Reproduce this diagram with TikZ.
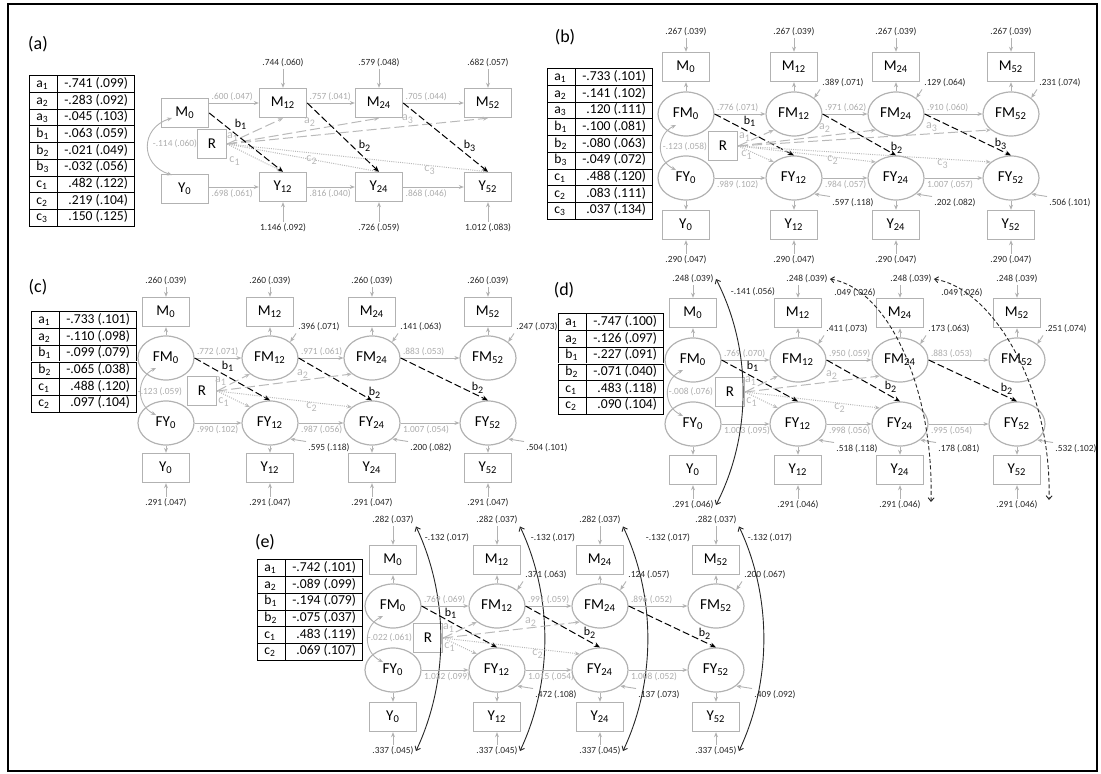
\documentclass[tikz,border=0pt]{standalone}
\usepackage{fontspec}
\setmainfont{Carlito}
\usepackage{array}
\usetikzlibrary{arrows.meta,shapes.geometric,calc}

\newcolumntype{V}{>{\raggedleft\arraybackslash}p{32.1pt}}
\setlength{\tabcolsep}{3pt}
\setlength{\arrayrulewidth}{0.5pt}
\newcommand{\tabfont}{\fontsize{6.8}{7.85}\selectfont}

\begin{document}
\begin{tikzpicture}[x=0.5pt,y=-0.5pt,
    obs/.style={draw=gray!60,line width=0.7pt,minimum width=23.5pt,minimum height=14.5pt,inner sep=0pt,font=\fontsize{7.5}{8}\selectfont},
    lat/.style={ellipse,draw=gray!60,line width=0.6pt,minimum width=28pt,minimum height=22pt,inner sep=0pt,font=\fontsize{7.6}{8}\selectfont},
    rbox/.style={draw=gray!60,line width=0.7pt,minimum size=14.5pt,inner sep=0pt,font=\fontsize{7.5}{8}\selectfont},
    est/.style={font=\fontsize{4.7}{5}\selectfont,text=black!85,inner sep=1pt},
    plab/.style={font=\fontsize{4.7}{5}\selectfont,text=gray!65,inner sep=1pt},
    glab/.style={font=\fontsize{6}{7}\selectfont,text=gray!55,inner sep=0pt},
    blab/.style={font=\fontsize{6}{7}\selectfont,inner sep=0pt},
    arr/.style={draw=gray!60,line width=0.45pt,-{Stealth[length=2.5pt,width=2pt]}},
    bpath/.style={black,line width=0.5pt,dash pattern=on 3.5pt off 1.5pt,-{Stealth[length=3pt,width=2.4pt]}},
    apath/.style={gray!55,line width=0.5pt,dash pattern=on 5pt off 2pt,-{Stealth[length=2.5pt,width=2pt]}},
    cpath/.style={gray!55,line width=0.5pt,dash pattern=on 0.5pt off 0.6pt,-{Stealth[length=2.5pt,width=2pt]}},
    cov/.style={gray!60,line width=0.45pt,{Stealth[length=2.5pt,width=2pt]}-{Stealth[length=2.5pt,width=2pt]}},
    longcov/.style={black!85,line width=0.45pt,{Straight Barb[length=1.8pt,width=3pt]}-{Straight Barb[length=1.8pt,width=3pt]}},
    tab/.style={anchor=north west,inner sep=0pt,font=\tabfont},
    panel/.style={font=\fontsize{9}{10}\selectfont}]
\useasboundingbox (0,0) rectangle (1101,774);
\draw[line width=1.4pt] (8,4) rectangle (1097,771);

%---------------- (a) ----------------
\node[panel] (pa) at (38,44) {(a)};
\node[tab] (ta) at (29,75) {\begin{tabular}{|p{7.2pt}|V|}\hline
  a\textsubscript{1} & -.741 (.099)\\\hline
  a\textsubscript{2} & -.283 (.092)\\\hline
  a\textsubscript{3} & -.045 (.103)\\\hline
  b\textsubscript{1} & -.063 (.059)\\\hline
  b\textsubscript{2} & -.021 (.049)\\\hline
  b\textsubscript{3} & -.032 (.056)\\\hline
  c\textsubscript{1} & .482 (.122)\\\hline
  c\textsubscript{2} & .219 (.104)\\\hline
  c\textsubscript{3} & .150 (.125)\\\hline
\end{tabular}};
\node[obs] (aM0) at (185,113) {M\textsubscript{0}};
\node[obs] (aY0) at (185,189) {Y\textsubscript{0}};
\node[rbox] (aR) at (212,144) {R};
\foreach \tm/\x/\ra/\rb in {12/283/.744 (.060)/1.146 (.092), 24/379/.579 (.048)/.726 (.059), 52/488/.682 (.057)/1.012 (.083)}{
  \node[obs] (aM\tm) at (\x,103) {M\textsubscript{\tm}};
  \node[obs] (aY\tm) at (\x,187) {Y\textsubscript{\tm}};
  \node[est] (aTM\tm) at (\x,63) {\ra};
  \node[est] (aTY\tm) at (\x,228) {\rb};
  \draw[arr] (aTM\tm) -- (aM\tm);
  \draw[arr] (aTY\tm) -- (aY\tm);
  \draw[apath] (aR.east) -- (aM\tm.south);
  \draw[cpath] (aR.east) -- (aY\tm.north);
}
\draw[arr] (aM0.east |- aM12) -- (aM12.west) node[pos=0,plab,anchor=south west] {.600 (.047)};
\draw[arr] (aY0.east |- aY12) -- (aY12.west) node[pos=0,plab,anchor=north west] {.698 (.061)};
\foreach \s/\tm/\ra/\rb in {12/24/.757 (.041)/.816 (.040), 24/52/.705 (.044)/.868 (.046)}{
  \draw[arr] (aM\s.east) -- (aM\tm.west) node[pos=0,plab,anchor=south west] {\ra};
  \draw[arr] (aY\s.east) -- (aY\tm.west) node[pos=0,plab,anchor=north west] {\rb};
}
\draw[bpath] (aM0.east) -- (aY12.north);
\draw[bpath] (aM12.east) -- (aY24.north);
\draw[bpath] (aM24.east) -- (aY52.north);
\draw[cov] ($(aM0)+(-13,5)$) .. controls +(-32,10) and +(-32,-10) .. ($(aY0)+(-13,-14)$);
\node[plab] at (175,144) {-.114 (.060)};
\node[blab] at (241,124) {b\textsubscript{1}};
\node[glab] at (233,137) {a\textsubscript{1}};
\node[glab] at (235,161) {c\textsubscript{1}};
\node[glab] at (310,122) {a\textsubscript{2}};
\node[blab] at (365,146) {b\textsubscript{2}};
\node[glab] at (312,160) {c\textsubscript{2}};
\node[glab] at (408,119) {a\textsubscript{3}};
\node[blab] at (470,146) {b\textsubscript{3}};
\node[glab] at (430,170) {c\textsubscript{3}};

%---------------- (b) ----------------
\node[panel] (pb) at (565,37) {(b)};
\node[tab] (tb) at (547,68) {\begin{tabular}{|p{7.2pt}|V|}\hline
  a\textsubscript{1} & -.733 (.101)\\\hline
  a\textsubscript{2} & -.141 (.102)\\\hline
  a\textsubscript{3} & .120 (.111)\\\hline
  b\textsubscript{1} & -.100 (.081)\\\hline
  b\textsubscript{2} & -.080 (.063)\\\hline
  b\textsubscript{3} & -.049 (.072)\\\hline
  c\textsubscript{1} & .488 (.120)\\\hline
  c\textsubscript{2} & .083 (.111)\\\hline
  c\textsubscript{3} & .037 (.134)\\\hline
\end{tabular}};
\node[rbox] (bR) at (723,146) {R};
\foreach \tm/\x in {0/686,12/794,24/896,52/1011}{
  \node[obs] (bM\tm) at (\x,67) {M\textsubscript{\tm}};
  \node[lat] (bFM\tm) at (\x,114) {FM\textsubscript{\tm}};
  \node[lat] (bFY\tm) at (\x,178) {FY\textsubscript{\tm}};
  \node[obs] (bY\tm) at (\x,225) {Y\textsubscript{\tm}};
  \node[est] (bTM\tm) at (\x,32) {.267 (.039)};
  \node[est] (bTY\tm) at (\x,260) {.290 (.047)};
  \draw[arr] (bTM\tm) -- (bM\tm);
  \draw[arr] (bTY\tm) -- (bY\tm);
  \draw[arr] (bFM\tm) -- (bM\tm);
  \draw[arr] (bFY\tm) -- (bY\tm);
}
\foreach \s/\tm/\ra/\rb in {0/12/.776 (.071)/.989 (.102), 12/24/.971 (.062)/.984 (.057), 24/52/.910 (.060)/1.007 (.057)}{
  \draw[arr] (bFM\s.east) -- (bFM\tm.west) node[pos=0,plab,anchor=south west] {\ra};
  \draw[arr] (bFY\s.east) -- (bFY\tm.west) node[pos=0,plab,anchor=north west] {\rb};
  \draw[bpath] (bFM\s.east) -- (bFY\tm.north);
}
\foreach \tm/\ra/\rb in {12/.389 (.071)/.597 (.118), 24/.129 (.064)/.202 (.082), 52/.231 (.074)/.506 (.101)}{
  \node[est,anchor=west] (bRM\tm) at ($(bFM\tm)+(26,-31)$) {\ra};
  \node[est,anchor=west] (bRY\tm) at ($(bFY\tm)+(36,25)$) {\rb};
  \draw[arr] (bRM\tm.south west) -- (bFM\tm.north east);
  \draw[arr] (bRY\tm.north west) -- (bFY\tm.south east);
  \draw[apath] (bR.east) -- (bFM\tm.south west);
  \draw[cpath] (bR.east) -- (bFY\tm.north west);
}
\draw[cov] ($(bFM0)+(-10,11)$) .. controls +(-20,10) and +(-20,-10) .. ($(bFY0)+(-10,-8)$);
\node[plab] at (685,147) {-.123 (.058)};
\node[blab] at (750,121) {b\textsubscript{1}};
\node[glab] at (745,137) {a\textsubscript{1}};
\node[glab] at (747,155) {c\textsubscript{1}};
\node[glab] at (825,128) {a\textsubscript{2}};
\node[glab] at (833,160) {c\textsubscript{2}};
\node[blab] at (897,148) {b\textsubscript{2}};
\node[glab] at (932,127) {a\textsubscript{3}};
\node[glab] at (943,164) {c\textsubscript{3}};
\node[blab] at (1001,144) {b\textsubscript{3}};

%---------------- (c) ----------------
\node[panel] (pc) at (38,287) {(c)};
\node[tab] (tc) at (31,311) {\begin{tabular}{|p{7.2pt}|V|}\hline
  a\textsubscript{1} & -.733 (.101)\\\hline
  a\textsubscript{2} & -.110 (.098)\\\hline
  b\textsubscript{1} & -.099 (.079)\\\hline
  b\textsubscript{2} & -.065 (.038)\\\hline
  c\textsubscript{1} & .488 (.120)\\\hline
  c\textsubscript{2} & .097 (.104)\\\hline
\end{tabular}};
\node[rbox] (cR) at (202,391) {R};
\foreach \tm/\x in {0/166,12/270,24/372,52/488}{
  \node[obs] (cM\tm) at (\x,312) {M\textsubscript{\tm}};
  \node[lat] (cFM\tm) at (\x,358) {FM\textsubscript{\tm}};
  \node[lat] (cFY\tm) at (\x,423) {FY\textsubscript{\tm}};
  \node[obs] (cY\tm) at (\x,468) {Y\textsubscript{\tm}};
  \node[est] (cTM\tm) at (\x,281) {.260 (.039)};
  \node[est] (cTY\tm) at (\x,503) {.291 (.047)};
  \draw[arr] (cTM\tm) -- (cM\tm);
  \draw[arr] (cTY\tm) -- (cY\tm);
  \draw[arr] (cFM\tm) -- (cM\tm);
  \draw[arr] (cFY\tm) -- (cY\tm);
}
\foreach \s/\tm/\ra/\rb in {0/12/.772 (.071)/.990 (.102), 12/24/.971 (.061)/.987 (.056), 24/52/.883 (.053)/1.007 (.054)}{
  \draw[arr] (cFM\s.east) -- (cFM\tm.west) node[pos=0,plab,anchor=south west] {\ra};
  \draw[arr] (cFY\s.east) -- (cFY\tm.west) node[pos=0,plab,anchor=north west] {\rb};
  \draw[bpath] (cFM\s.east) -- (cFY\tm.north);
}
\foreach \tm/\ra/\rb in {12/.396 (.071)/.595 (.118), 24/.141 (.063)/.200 (.082), 52/.247 (.073)/.504 (.101)}{
  \node[est,anchor=west] (cRM\tm) at ($(cFM\tm)+(26,-31)$) {\ra};
  \node[est,anchor=west] (cRY\tm) at ($(cFY\tm)+(36,25)$) {\rb};
  \draw[arr] (cRM\tm.south west) -- (cFM\tm.north east);
  \draw[arr] (cRY\tm.north west) -- (cFY\tm.south east);
}
\foreach \tm in {12,24}{
  \draw[apath] (cR.east) -- (cFM\tm.south west);
  \draw[cpath] (cR.east) -- (cFY\tm.north west);
}
\draw[cov] ($(cFM0)+(-10,10)$) .. controls +(-20,10) and +(-20,-10) .. ($(cFY0)+(-10,-8)$);
\node[plab] at (160,392) {-.123 (.059)};
\node[blab] at (228,366) {b\textsubscript{1}};
\node[glab] at (221,381) {a\textsubscript{1}};
\node[glab] at (224,402) {c\textsubscript{1}};
\node[glab] at (303,374) {a\textsubscript{2}};
\node[glab] at (312,407) {c\textsubscript{2}};
\node[blab] at (375,393) {b\textsubscript{2}};
\node[blab] at (478,388) {b\textsubscript{2}};

%---------------- (d) ----------------
\node[panel] (pd) at (564,290) {(d)};
\node[tab] (td) at (558,313) {\begin{tabular}{|p{7.2pt}|V|}\hline
  a\textsubscript{1} & -.747 (.100)\\\hline
  a\textsubscript{2} & -.126 (.097)\\\hline
  b\textsubscript{1} & -.227 (.091)\\\hline
  b\textsubscript{2} & -.071 (.040)\\\hline
  c\textsubscript{1} & .483 (.118)\\\hline
  c\textsubscript{2} & .090 (.104)\\\hline
\end{tabular}};
\node[rbox] (dR) at (730,392) {R};
\foreach \tm/\x/\lx in {0/693/693,12/798/807,24/900/911,52/1017/1017}{
  \node[obs] (dM\tm) at (\x,313) {M\textsubscript{\tm}};
  \node[lat] (dFM\tm) at (\x,360) {FM\textsubscript{\tm}};
  \node[lat] (dFY\tm) at (\x,424) {FY\textsubscript{\tm}};
  \node[obs] (dY\tm) at (\x,470) {Y\textsubscript{\tm}};
  \node[est] (dTM\tm) at (\lx,279) {.248 (.039)};
  \node[est] (dTY\tm) at (\x,505) {.291 (.046)};
  \draw[arr] (dTM\tm.south -| dM\tm) -- (dM\tm);
  \draw[arr] (dTY\tm) -- (dY\tm);
  \draw[arr] (dFM\tm) -- (dM\tm);
  \draw[arr] (dFY\tm) -- (dY\tm);
}
\foreach \s/\tm/\ra/\rb in {0/12/.769 (.070)/1.003 (.095), 12/24/.950 (.059)/.998 (.056), 24/52/.883 (.053)/.995 (.054)}{
  \draw[arr] (dFM\s.east) -- (dFM\tm.west) node[pos=0,plab,anchor=south west] {\ra};
  \draw[arr] (dFY\s.east) -- (dFY\tm.west) node[pos=0,plab,anchor=north west] {\rb};
  \draw[bpath] (dFM\s.east) -- (dFY\tm.north);
}
\foreach \tm/\ra/\rb in {12/.411 (.073)/.518 (.118), 24/.173 (.063)/.178 (.081), 52/.251 (.074)/.532 (.102)}{
  \node[est,anchor=west] (dRM\tm) at ($(dFM\tm)+(26,-31)$) {\ra};
  \node[est,anchor=west] (dRY\tm) at ($(dFY\tm)+(36,25)$) {\rb};
  \draw[arr] (dRM\tm.south west) -- (dFM\tm.north east);
  \draw[arr] (dRY\tm.north west) -- (dFY\tm.south east);
}
\foreach \tm in {12,24}{
  \draw[apath] (dR.east) -- (dFM\tm.south west);
  \draw[cpath] (dR.east) -- (dFY\tm.north west);
}
\draw[cov] ($(dFM0)+(-10,10)$) .. controls +(-20,10) and +(-20,-10) .. ($(dFY0)+(-10,-8)$);
\node[plab] at (691,392) {-.008 (.076)};
\node[blab] at (753,366) {b\textsubscript{1}};
\node[glab] at (751,381) {a\textsubscript{1}};
\node[glab] at (752,402) {c\textsubscript{1}};
\node[glab] at (832,375) {a\textsubscript{2}};
\node[glab] at (840,408) {c\textsubscript{2}};
\node[blab] at (891,387) {b\textsubscript{2}};
\node[blab] at (1007,389) {b\textsubscript{2}};
% residual covariances
\draw[longcov] (dTM0.east) .. controls +(36,70) and +(36,-70) .. (dTY0.east);
\node[est] at (753,292) {-.141 (.056)};
\coordinate (dE24) at ($(dTY24.east)+(8,-3)$);
\coordinate (dE52) at ($(dTY52.east)+(9,-5)$);
\draw[longcov,dash pattern=on 2pt off 1.2pt] (dTM12.east) .. controls +(60,10) and +(3,-110) .. (dE24);
\draw[longcov,dash pattern=on 2pt off 1.2pt] (dTM24.east) .. controls +(60,10) and +(3,-110) .. (dE52);
\node[est] at (855,293) {.049 (.026)};
\node[est] at (962,293) {.049 (.026)};

%---------------- (e) ----------------
\node[panel] (pe) at (265,542) {(e)};
\node[tab] (te) at (257,559) {\begin{tabular}{|p{7.2pt}|V|}\hline
  a\textsubscript{1} & -.742 (.101)\\\hline
  a\textsubscript{2} & -.089 (.099)\\\hline
  b\textsubscript{1} & -.194 (.079)\\\hline
  b\textsubscript{2} & -.075 (.037)\\\hline
  c\textsubscript{1} & .483 (.119)\\\hline
  c\textsubscript{2} & .069 (.107)\\\hline
\end{tabular}};
\node[rbox] (eR) at (428,638) {R};
\foreach \tm/\x/\cx in {0/393/447,12/497/553,24/600/668,52/716/770}{
  \node[obs] (eM\tm) at (\x,560) {M\textsubscript{\tm}};
  \node[lat] (eFM\tm) at (\x,606) {FM\textsubscript{\tm}};
  \node[lat] (eFY\tm) at (\x,670) {FY\textsubscript{\tm}};
  \node[obs] (eY\tm) at (\x,717) {Y\textsubscript{\tm}};
  \node[est] (eTM\tm) at (\x,520) {.282 (.037)};
  \node[est] (eTY\tm) at (\x,751) {.337 (.045)};
  \draw[arr] (eTM\tm) -- (eM\tm);
  \draw[arr] (eTY\tm) -- (eY\tm);
  \draw[arr] (eFM\tm) -- (eM\tm);
  \draw[arr] (eFY\tm) -- (eY\tm);
  \draw[longcov] (eTM\tm.south east) .. controls +(33,70) and +(33,-70) .. (eTY\tm.east);
  \node[est] at (\cx,538) {-.132 (.017)};
}
\foreach \s/\tm/\ra/\rb in {0/12/.769 (.069)/1.032 (.099), 12/24/.991 (.059)/1.015 (.054), 24/52/.896 (.052)/1.008 (.052)}{
  \draw[arr] (eFM\s.east) -- (eFM\tm.west) node[pos=0,plab,anchor=south west] {\ra};
  \draw[arr] (eFY\s.east) -- (eFY\tm.west) node[pos=0,plab,anchor=north west] {\rb};
  \draw[bpath] (eFM\s.east) -- (eFY\tm.north);
}
\foreach \tm/\ra/\rb in {12/.371 (.063)/.472 (.108), 24/.124 (.057)/.137 (.073), 52/.200 (.067)/.409 (.092)}{
  \node[est,anchor=west] (eRM\tm) at ($(eFM\tm)+(26,-31)$) {\ra};
  \node[est,anchor=west] (eRY\tm) at ($(eFY\tm)+(36,25)$) {\rb};
  \draw[arr] (eRM\tm.south west) -- (eFM\tm.north east);
  \draw[arr] (eRY\tm.north west) -- (eFY\tm.south east);
}
\foreach \tm in {12,24}{
  \draw[apath] (eR.east) -- (eFM\tm.south west);
  \draw[cpath] (eR.east) -- (eFY\tm.north west);
}
\draw[cov] ($(eFM0)+(-10,10)$) .. controls +(-20,10) and +(-20,-10) .. ($(eFY0)+(-10,-8)$);
\node[plab] at (390,638) {-.022 (.061)};
\node[blab] at (451,613) {b\textsubscript{1}};
\node[glab] at (449,628) {a\textsubscript{1}};
\node[glab] at (450,647) {c\textsubscript{1}};
\node[glab] at (531,622) {a\textsubscript{2}};
\node[glab] at (538,654) {c\textsubscript{2}};
\node[blab] at (590,633) {b\textsubscript{2}};
\node[blab] at (705,634) {b\textsubscript{2}};
\end{tikzpicture}
\end{document}
